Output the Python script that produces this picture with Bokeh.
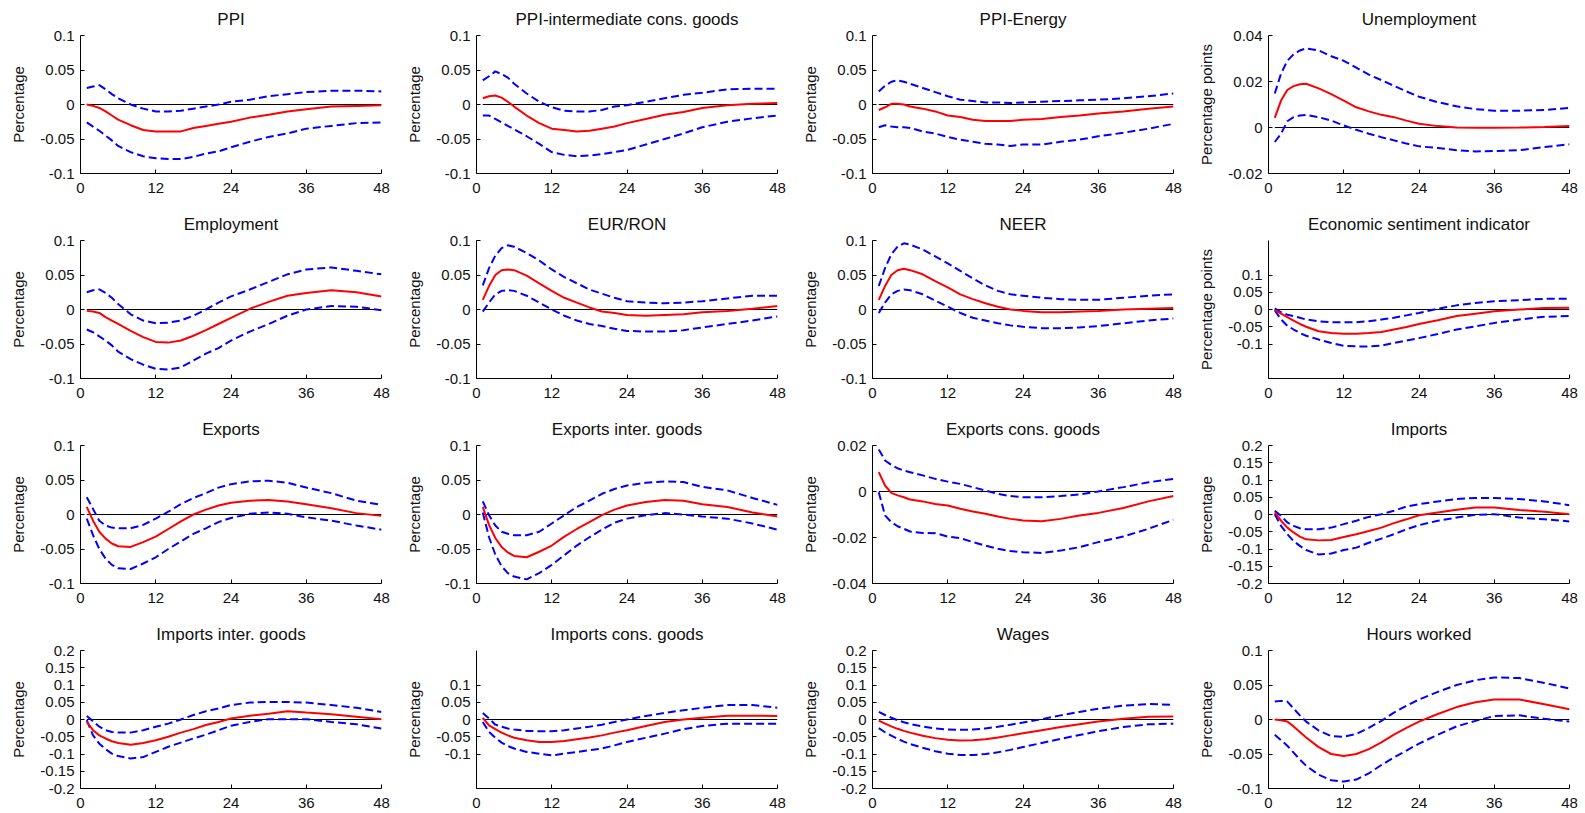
from bokeh.plotting import figure
from bokeh.layouts import gridplot
from bokeh.models import Range1d, FixedTicker, CustomJSTickFormatter
from bokeh.embed import file_html
from bokeh.resources import INLINE

# Horizon (months)
X = [1, 2, 3, 4, 5, 6, 8, 10, 12, 14, 16, 18, 20, 22, 24, 27, 30, 33, 36, 40, 44, 48]
X_TICKS = [0, 12, 24, 36, 48]

# ---- PPI
ppi_mid = [0, -0.002, -0.005, -0.01, -0.016, -0.022, -0.03, -0.037, -0.039, -0.039, -0.039, -0.034, -0.031, -0.028, -0.025, -0.019, -0.015, -0.01, -0.007, -0.003, -0.002, -0.001]
ppi_up = [0.024, 0.026, 0.028, 0.022, 0.015, 0.009, 0.0, -0.006, -0.01, -0.01, -0.009, -0.006, -0.003, 0.0, 0.004, 0.007, 0.012, 0.015, 0.018, 0.02, 0.02, 0.019]
ppi_lo = [-0.026, -0.032, -0.038, -0.045, -0.052, -0.06, -0.069, -0.075, -0.078, -0.079, -0.079, -0.076, -0.071, -0.068, -0.062, -0.054, -0.047, -0.042, -0.035, -0.031, -0.027, -0.026]
# ---- PPI-intermediate cons. goods
ppii_mid = [0.009, 0.012, 0.013, 0.01, 0.004, -0.003, -0.016, -0.027, -0.035, -0.037, -0.039, -0.038, -0.035, -0.032, -0.027, -0.021, -0.015, -0.011, -0.005, -0.001, 0.001, 0.002]
ppii_up = [0.035, 0.041, 0.048, 0.044, 0.039, 0.03, 0.016, 0.004, -0.004, -0.009, -0.01, -0.01, -0.008, -0.003, -0.001, 0.004, 0.009, 0.014, 0.017, 0.022, 0.023, 0.023]
ppii_lo = [-0.016, -0.016, -0.021, -0.026, -0.031, -0.036, -0.046, -0.057, -0.069, -0.073, -0.075, -0.074, -0.072, -0.069, -0.066, -0.058, -0.05, -0.042, -0.033, -0.025, -0.02, -0.016]
# ---- PPI-Energy
ppie_mid = [-0.008, -0.004, 0.001, 0.001, 0.0, -0.003, -0.006, -0.01, -0.016, -0.018, -0.022, -0.024, -0.024, -0.024, -0.022, -0.021, -0.018, -0.016, -0.013, -0.01, -0.006, -0.003]
ppie_up = [0.019, 0.027, 0.033, 0.035, 0.033, 0.03, 0.024, 0.018, 0.012, 0.007, 0.005, 0.003, 0.003, 0.002, 0.003, 0.004, 0.005, 0.006, 0.007, 0.009, 0.012, 0.016]
ppie_lo = [-0.033, -0.03, -0.032, -0.033, -0.033, -0.034, -0.039, -0.042, -0.047, -0.051, -0.054, -0.057, -0.058, -0.06, -0.058, -0.058, -0.054, -0.051, -0.046, -0.041, -0.035, -0.028]
# ---- Unemployment
unemp_mid = [0.0042, 0.0117, 0.0163, 0.018, 0.0188, 0.019, 0.017, 0.0145, 0.0117, 0.0088, 0.007, 0.0055, 0.0045, 0.003, 0.0016, 0.0006, 0.0, -0.0001, -0.0001, 0.0, 0.0002, 0.0006]
unemp_up = [0.0148, 0.0234, 0.029, 0.0318, 0.0335, 0.0344, 0.0335, 0.031, 0.029, 0.026, 0.023, 0.0206, 0.0181, 0.0157, 0.0134, 0.011, 0.0092, 0.008, 0.0073, 0.0073, 0.0076, 0.0085]
unemp_lo = [-0.0063, -0.0027, 0.0027, 0.0045, 0.0052, 0.0055, 0.0045, 0.003, 0.0009, -0.001, -0.0027, -0.0042, -0.0056, -0.007, -0.0082, -0.0089, -0.0099, -0.0104, -0.0102, -0.0099, -0.0085, -0.0073]
# ---- Employment
emp_mid = [-0.002, -0.003, -0.005, -0.011, -0.016, -0.021, -0.031, -0.04, -0.047, -0.048, -0.045, -0.038, -0.03, -0.021, -0.012, 0.001, 0.011, 0.02, 0.024, 0.028, 0.025, 0.019]
emp_up = [0.025, 0.028, 0.029, 0.024, 0.017, 0.008, -0.007, -0.016, -0.02, -0.019, -0.016, -0.009, 0.0, 0.01, 0.019, 0.029, 0.04, 0.051, 0.058, 0.061, 0.056, 0.051]
emp_lo = [-0.029, -0.033, -0.039, -0.045, -0.052, -0.061, -0.072, -0.08, -0.086, -0.087, -0.084, -0.074, -0.064, -0.056, -0.045, -0.032, -0.021, -0.009, 0.0, 0.005, 0.004, -0.001]
# ---- EUR/RON
eur_mid = [0.014, 0.034, 0.05, 0.057, 0.058, 0.057, 0.049, 0.038, 0.027, 0.017, 0.01, 0.003, -0.003, -0.005, -0.008, -0.009, -0.008, -0.007, -0.004, -0.002, 0.001, 0.005]
eur_up = [0.035, 0.06, 0.078, 0.089, 0.093, 0.091, 0.082, 0.071, 0.058, 0.047, 0.038, 0.029, 0.023, 0.017, 0.012, 0.01, 0.009, 0.01, 0.012, 0.016, 0.02, 0.02]
eur_lo = [-0.003, 0.01, 0.022, 0.027, 0.028, 0.027, 0.02, 0.01, 0.0, -0.009, -0.016, -0.021, -0.024, -0.028, -0.031, -0.032, -0.032, -0.03, -0.026, -0.021, -0.016, -0.01]
# ---- NEER
neer_mid = [0.014, 0.034, 0.05, 0.057, 0.059, 0.057, 0.051, 0.041, 0.032, 0.022, 0.015, 0.009, 0.004, 0.0, -0.002, -0.004, -0.004, -0.003, -0.002, 0.0, 0.001, 0.002]
neer_up = [0.034, 0.06, 0.08, 0.091, 0.096, 0.094, 0.087, 0.077, 0.067, 0.056, 0.045, 0.035, 0.027, 0.022, 0.02, 0.017, 0.015, 0.014, 0.014, 0.017, 0.02, 0.022]
neer_lo = [-0.005, 0.01, 0.022, 0.027, 0.029, 0.028, 0.022, 0.013, 0.004, -0.005, -0.012, -0.016, -0.02, -0.023, -0.025, -0.027, -0.027, -0.026, -0.024, -0.02, -0.016, -0.013]
# ---- Economic sentiment indicator
esi_mid = [-0.002, -0.012, -0.022, -0.032, -0.042, -0.05, -0.063, -0.068, -0.07, -0.07, -0.068, -0.065, -0.058, -0.051, -0.042, -0.031, -0.019, -0.012, -0.005, 0.0, 0.004, 0.005]
esi_up = [0.003, -0.008, -0.015, -0.019, -0.024, -0.029, -0.034, -0.037, -0.037, -0.037, -0.034, -0.029, -0.024, -0.017, -0.01, 0.002, 0.012, 0.019, 0.024, 0.027, 0.031, 0.031]
esi_lo = [-0.002, -0.029, -0.047, -0.058, -0.068, -0.076, -0.087, -0.097, -0.105, -0.107, -0.107, -0.105, -0.097, -0.09, -0.083, -0.071, -0.058, -0.049, -0.039, -0.029, -0.021, -0.019]
# ---- Exports
exp_mid = [0.011, -0.009, -0.025, -0.035, -0.042, -0.046, -0.047, -0.04, -0.032, -0.021, -0.01, 0.0, 0.007, 0.013, 0.017, 0.02, 0.021, 0.019, 0.015, 0.009, 0.002, -0.002]
exp_up = [0.025, 0.008, -0.009, -0.016, -0.019, -0.02, -0.02, -0.015, -0.006, 0.004, 0.015, 0.024, 0.031, 0.039, 0.044, 0.048, 0.049, 0.046, 0.039, 0.031, 0.02, 0.014]
exp_lo = [-0.006, -0.03, -0.05, -0.064, -0.073, -0.078, -0.079, -0.071, -0.062, -0.05, -0.039, -0.028, -0.02, -0.011, -0.005, 0.001, 0.003, 0.001, -0.004, -0.009, -0.016, -0.022]
# ---- Exports inter. goods
expi_mid = [0.011, -0.015, -0.034, -0.047, -0.055, -0.06, -0.062, -0.054, -0.045, -0.032, -0.021, -0.011, -0.001, 0.007, 0.013, 0.018, 0.021, 0.02, 0.015, 0.011, 0.003, -0.003]
expi_up = [0.019, -0.001, -0.016, -0.025, -0.028, -0.03, -0.03, -0.025, -0.013, -0.001, 0.011, 0.02, 0.03, 0.037, 0.042, 0.046, 0.048, 0.047, 0.04, 0.035, 0.024, 0.014]
expi_lo = [0.003, -0.033, -0.058, -0.075, -0.085, -0.09, -0.094, -0.085, -0.073, -0.059, -0.045, -0.033, -0.022, -0.012, -0.006, -0.001, 0.002, 0.0, -0.003, -0.006, -0.013, -0.022]
# ---- Exports cons. goods
expc_mid = [0.0084, 0.0026, -0.0006, -0.0017, -0.0025, -0.0035, -0.0043, -0.0054, -0.0061, -0.0075, -0.0087, -0.0097, -0.0109, -0.0119, -0.0126, -0.0129, -0.0119, -0.0104, -0.0093, -0.0072, -0.0043, -0.002]
expc_up = [0.0183, 0.0135, 0.0116, 0.0101, 0.0091, 0.0084, 0.007, 0.0055, 0.0043, 0.0033, 0.0019, 0.0004, -0.001, -0.002, -0.0025, -0.0025, -0.002, -0.0013, 0.0, 0.0019, 0.004, 0.0055]
expc_lo = [-0.0003, -0.0104, -0.0133, -0.0151, -0.0162, -0.0174, -0.018, -0.0181, -0.0196, -0.0203, -0.022, -0.0235, -0.0249, -0.0259, -0.0264, -0.0267, -0.0257, -0.0242, -0.022, -0.0196, -0.0162, -0.0123]
# ---- Imports
imp_mid = [0.006, -0.018, -0.038, -0.052, -0.064, -0.072, -0.075, -0.074, -0.065, -0.057, -0.048, -0.038, -0.025, -0.014, -0.002, 0.006, 0.014, 0.02, 0.02, 0.013, 0.008, 0.001]
imp_up = [0.011, -0.004, -0.023, -0.033, -0.04, -0.043, -0.043, -0.038, -0.028, -0.018, -0.007, 0.001, 0.011, 0.023, 0.03, 0.038, 0.045, 0.048, 0.048, 0.045, 0.038, 0.027]
imp_lo = [0.001, -0.033, -0.057, -0.077, -0.091, -0.103, -0.116, -0.113, -0.103, -0.096, -0.082, -0.07, -0.057, -0.043, -0.031, -0.018, -0.009, -0.001, 0.001, -0.009, -0.014, -0.02]
# ---- Imports inter. goods
impi_mid = [-0.007, -0.031, -0.046, -0.055, -0.063, -0.068, -0.073, -0.068, -0.06, -0.05, -0.038, -0.028, -0.016, -0.007, 0.003, 0.011, 0.017, 0.024, 0.02, 0.015, 0.008, 0.001]
impi_up = [0.01, -0.005, -0.021, -0.031, -0.036, -0.038, -0.038, -0.031, -0.021, -0.012, 0.0, 0.013, 0.024, 0.032, 0.042, 0.049, 0.051, 0.051, 0.049, 0.042, 0.034, 0.022]
impi_lo = [-0.002, -0.046, -0.07, -0.086, -0.099, -0.106, -0.113, -0.109, -0.094, -0.079, -0.067, -0.055, -0.044, -0.031, -0.018, -0.007, 0.001, 0.001, 0.001, -0.007, -0.014, -0.026]
# ---- Imports cons. goods
impc_mid = [0.005, -0.017, -0.028, -0.038, -0.046, -0.053, -0.06, -0.065, -0.065, -0.062, -0.057, -0.052, -0.046, -0.038, -0.031, -0.019, -0.007, 0.0, 0.005, 0.011, 0.011, 0.01]
impc_up = [0.019, 0.003, -0.015, -0.021, -0.026, -0.029, -0.033, -0.034, -0.034, -0.031, -0.026, -0.021, -0.015, -0.007, 0.0, 0.01, 0.019, 0.027, 0.034, 0.042, 0.042, 0.034]
impc_lo = [-0.007, -0.036, -0.053, -0.067, -0.077, -0.084, -0.094, -0.099, -0.104, -0.099, -0.094, -0.089, -0.084, -0.075, -0.065, -0.053, -0.041, -0.028, -0.019, -0.012, -0.012, -0.012]
# ---- Wages
wage_mid = [-0.003, -0.012, -0.02, -0.027, -0.033, -0.038, -0.047, -0.054, -0.059, -0.061, -0.06, -0.057, -0.052, -0.046, -0.04, -0.031, -0.022, -0.014, -0.006, 0.002, 0.008, 0.009]
wage_up = [0.022, 0.013, 0.005, -0.002, -0.008, -0.013, -0.02, -0.026, -0.029, -0.03, -0.029, -0.026, -0.021, -0.015, -0.009, 0.001, 0.012, 0.022, 0.031, 0.04, 0.045, 0.042]
wage_lo = [-0.025, -0.037, -0.047, -0.056, -0.064, -0.071, -0.082, -0.092, -0.099, -0.103, -0.103, -0.1, -0.095, -0.088, -0.08, -0.068, -0.056, -0.045, -0.034, -0.022, -0.014, -0.012]
# ---- Hours worked
hours_mid = [0.0, -0.001, -0.003, -0.01, -0.018, -0.026, -0.04, -0.05, -0.053, -0.05, -0.043, -0.033, -0.022, -0.012, -0.003, 0.008, 0.018, 0.025, 0.029, 0.029, 0.022, 0.015]
hours_up = [0.026, 0.027, 0.026, 0.016, 0.006, -0.003, -0.016, -0.024, -0.025, -0.021, -0.012, -0.002, 0.01, 0.02, 0.029, 0.04, 0.05, 0.057, 0.061, 0.06, 0.053, 0.045]
hours_lo = [-0.022, -0.03, -0.038, -0.048, -0.058, -0.067, -0.08, -0.088, -0.09, -0.087, -0.078, -0.066, -0.055, -0.045, -0.035, -0.022, -0.01, -0.002, 0.005, 0.006, 0.001, -0.003]

# Tick sets
ticks_01 = [-0.1, -0.05, 0, 0.05, 0.1]
ticks_unemp = [-0.02, 0, 0.02, 0.04]
ticks_expc = [-0.04, -0.02, 0, 0.02]
ticks_02 = [-0.2, -0.15, -0.1, -0.05, 0, 0.05, 0.1, 0.15, 0.2]

PCT = "Percentage"
PP = "Percentage points"

panels = [
    ("PPI", PCT, (-0.1, 0.1), ticks_01, ppi_mid, ppi_up, ppi_lo),
    ("PPI-intermediate cons. goods", PCT, (-0.1, 0.1), ticks_01, ppii_mid, ppii_up, ppii_lo),
    ("PPI-Energy", PCT, (-0.1, 0.1), ticks_01, ppie_mid, ppie_up, ppie_lo),
    ("Unemployment", PP, (-0.02, 0.04), ticks_unemp, unemp_mid, unemp_up, unemp_lo),
    ("Employment", PCT, (-0.1, 0.1), ticks_01, emp_mid, emp_up, emp_lo),
    ("EUR/RON", PCT, (-0.1, 0.1), ticks_01, eur_mid, eur_up, eur_lo),
    ("NEER", PCT, (-0.1, 0.1), ticks_01, neer_mid, neer_up, neer_lo),
    ("Economic sentiment indicator", PP, (-0.2, 0.2), ticks_01, esi_mid, esi_up, esi_lo),
    ("Exports", PCT, (-0.1, 0.1), ticks_01, exp_mid, exp_up, exp_lo),
    ("Exports inter. goods", PCT, (-0.1, 0.1), ticks_01, expi_mid, expi_up, expi_lo),
    ("Exports cons. goods", PCT, (-0.04, 0.02), ticks_expc, expc_mid, expc_up, expc_lo),
    ("Imports", PCT, (-0.2, 0.2), ticks_02, imp_mid, imp_up, imp_lo),
    ("Imports inter. goods", PCT, (-0.2, 0.2), ticks_02, impi_mid, impi_up, impi_lo),
    ("Imports cons. goods", PCT, (-0.2, 0.2), ticks_01, impc_mid, impc_up, impc_lo),
    ("Wages", PCT, (-0.2, 0.2), ticks_02, wage_mid, wage_up, wage_lo),
    ("Hours worked", PCT, (-0.1, 0.1), ticks_01, hours_mid, hours_up, hours_lo),
]

FONT = "Liberation Sans"
fmt_code = "return String(Number(tick.toPrecision(6)));"

figs = []
for i, (title, ylab, yr, yt, mid, up, lo) in enumerate(panels):
    row = i // 4
    bottom = 25 if row == 3 else 32
    p = figure(width=396, height=34 + 139 + bottom,
               x_range=Range1d(0, 48), y_range=Range1d(yr[0], yr[1]),
               output_backend="svg", toolbar_location=None,
               min_border_left=80, min_border_right=15,
               min_border_top=34, min_border_bottom=bottom,
               title=title)
    p.title.align = "center"
    p.title.text_font = FONT
    p.title.text_font_size = "17px"
    p.title.text_font_style = "normal"
    p.title.text_color = "#111111"
    p.title.standoff = 14
    p.outline_line_color = None
    p.grid.visible = False
    p.background_fill_color = "white"
    p.border_fill_color = "white"

    p.xaxis.ticker = FixedTicker(ticks=X_TICKS, minor_ticks=[])
    p.yaxis.ticker = FixedTicker(ticks=yt, minor_ticks=[])
    p.yaxis.formatter = CustomJSTickFormatter(code=fmt_code)
    p.xaxis.formatter = CustomJSTickFormatter(code=fmt_code)
    for ax in (p.xaxis, p.yaxis):
        ax.major_tick_in = 4
        ax.major_tick_out = 0
        ax.minor_tick_line_color = None
        ax.axis_line_color = "black"
        ax.major_tick_line_color = "black"
        ax.major_label_text_font = FONT
        ax.major_label_text_font_size = "15px"
        ax.major_label_text_color = "#111111"
    p.xaxis.major_label_standoff = 9
    p.yaxis.major_label_standoff = 6
    p.yaxis.axis_label = ylab
    p.yaxis.axis_label_text_font = FONT
    p.yaxis.axis_label_text_font_size = "15px"
    p.yaxis.axis_label_text_font_style = "normal"
    p.yaxis.axis_label_text_color = "#111111"
    p.yaxis.axis_label_standoff = 10

    p.line([1, 48], [0, 0], line_color="black", line_width=1)
    p.line(X, up, line_color="#0000ff", line_width=2, line_dash="8 4")
    p.line(X, lo, line_color="#0000ff", line_width=2, line_dash="8 4")
    p.line(X, mid, line_color="#ff0000", line_width=2)
    figs.append(p)

grid = gridplot(figs, ncols=4, toolbar_location=None)
open("out.html", "w").write(file_html(grid, INLINE))
